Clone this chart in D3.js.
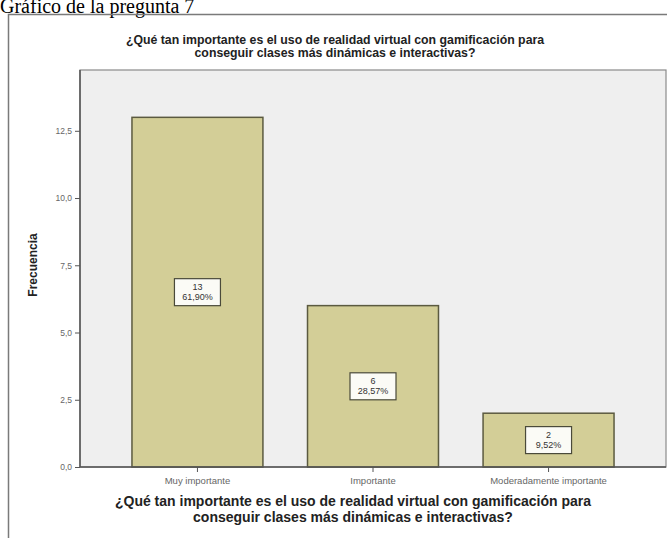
<!DOCTYPE html>
<html>
<head>
<meta charset="utf-8">
<script src="https://cdn.jsdelivr.net/npm/d3@7"></script>
<style>
  body { margin: 0; background: #fff; }
  svg { display: block; }
</style>
</head>
<body>
<svg id="chart"></svg>
<script>
const svgWidth = 667;
const svgHeight = 538;

// data
const categories = ["Muy importante", "Importante", "Moderadamente importante"];
const counts = [13, 6, 2];
const percents = ["61,90%", "28,57%", "9,52%"];
const yTicks = [0, 2.5, 5, 7.5, 10, 12.5];
const titleLines = [
    "¿Qué tan importante es el uso de realidad virtual con gamificación para",
    "conseguir clases más dinámicas e interactivas?"
];

const plot = { left: 80, right: 666, top: 70, bottom: 467 };

var svg = d3.select("#chart")
    .attr("width", svgWidth)
    .attr("height", svgHeight);

// caption above the frame (cropped at the top, like the source)
svg.append("text")
    .attr("x", 0)
    .attr("y", 13)
    .attr("font-family", "Liberation Serif, Times New Roman, serif")
    .attr("font-size", 20)
    .attr("fill", "#000")
    .text("Gráfico de la pregunta 7");

// outer frame (top + left only, rest is cropped)
svg.append("path")
    .attr("d", "M8.5,538 V14.5 H667")
    .attr("fill", "none")
    .attr("stroke", "#7a7a7a")
    .attr("stroke-width", 1.5);

// chart title
svg.append("text")
    .attr("x", 335)
    .attr("y", 44)
    .attr("text-anchor", "middle")
    .attr("font-family", "Liberation Sans, Arial, sans-serif")
    .attr("font-weight", "bold")
    .attr("font-size", 12.3)
    .attr("fill", "#222")
    .selectAll("tspan")
    .data(titleLines)
    .enter()
    .append("tspan")
    .attr("x", 335)
    .attr("dy", (d, i) => i === 0 ? 0 : 13)
    .text(d => d);

var x = d3.scaleBand()
    .domain(categories)
    .range([plot.left, plot.right])
    .paddingInner(0.254)
    .paddingOuter(0.296);

var y = d3.scaleLinear()
    .domain([0, 14.76])
    .range([plot.bottom, plot.top]);

// plot background
svg.append("rect")
    .attr("x", plot.left)
    .attr("y", plot.top)
    .attr("width", plot.right - plot.left)
    .attr("height", plot.bottom - plot.top)
    .attr("fill", "#efefef")
    .attr("stroke", "#8a8a8a")
    .attr("stroke-width", 1.2);

// bars
svg.selectAll("rect.bar")
    .data(counts)
    .enter()
    .append("rect")
    .attr("class", "bar")
    .attr("x", (d, i) => x(categories[i]))
    .attr("y", d => y(d))
    .attr("width", x.bandwidth())
    .attr("height", d => y(0) - y(d))
    .attr("fill", "#d3ce97")
    .attr("stroke", "#5b5a40")
    .attr("stroke-width", 1.5);

// value boxes
var boxW = 46, boxH = 27;
var labels = svg.selectAll("g.lbl")
    .data(counts)
    .enter()
    .append("g")
    .attr("class", "lbl")
    .attr("transform", (d, i) =>
        "translate(" + (x(categories[i]) + x.bandwidth() / 2) + "," + ((y(d) + y(0)) / 2) + ")");

labels.append("rect")
    .attr("x", -boxW / 2)
    .attr("y", -boxH / 2)
    .attr("width", boxW)
    .attr("height", boxH)
    .attr("fill", "#fbfbf6")
    .attr("stroke", "#4a4a3a")
    .attr("stroke-width", 1.2);

labels.append("text")
    .attr("y", -2)
    .attr("text-anchor", "middle")
    .attr("font-family", "Liberation Sans, Arial, sans-serif")
    .attr("font-size", 9)
    .attr("fill", "#333")
    .text(d => d);

labels.append("text")
    .attr("y", 8)
    .attr("text-anchor", "middle")
    .attr("font-family", "Liberation Sans, Arial, sans-serif")
    .attr("font-size", 9)
    .attr("fill", "#333")
    .text((d, i) => percents[i]);

// y axis
var yAxis = svg.append("g")
    .attr("transform", "translate(" + plot.left + ",0)")
    .call(d3.axisLeft(y)
        .tickValues(yTicks)
        .tickSize(5)
        .tickFormat(d => d3.format(".1f")(d).replace(".", ",")));

yAxis.select(".domain")
    .attr("d", "M0," + plot.top + "V" + plot.bottom)
    .attr("stroke", "#555")
    .attr("stroke-width", 1.5);
yAxis.selectAll(".tick line").attr("stroke", "#555");
yAxis.selectAll(".tick text")
    .attr("font-family", "Liberation Sans, Arial, sans-serif")
    .attr("font-size", 8.5)
    .attr("fill", "#666");

// x axis
var xAxis = svg.append("g")
    .attr("transform", "translate(0," + plot.bottom + ")")
    .call(d3.axisBottom(x).tickSize(5).tickPadding(5));

xAxis.select(".domain")
    .attr("d", "M" + plot.left + ",0H" + plot.right)
    .attr("stroke", "#555")
    .attr("stroke-width", 1.5);
xAxis.selectAll(".tick line").attr("stroke", "#555");
xAxis.selectAll(".tick text")
    .attr("font-family", "Liberation Sans, Arial, sans-serif")
    .attr("font-size", 9.5)
    .attr("fill", "#666");

// y axis title
svg.append("text")
    .attr("transform", "translate(37,265) rotate(-90)")
    .attr("text-anchor", "middle")
    .attr("font-family", "Liberation Sans, Arial, sans-serif")
    .attr("font-weight", "bold")
    .attr("font-size", 12)
    .attr("fill", "#222")
    .text("Frecuencia");

// x axis title
svg.append("text")
    .attr("x", 353)
    .attr("y", 506)
    .attr("text-anchor", "middle")
    .attr("font-family", "Liberation Sans, Arial, sans-serif")
    .attr("font-weight", "bold")
    .attr("font-size", 14)
    .attr("fill", "#222")
    .selectAll("tspan")
    .data(titleLines)
    .enter()
    .append("tspan")
    .attr("x", 353)
    .attr("dy", (d, i) => i === 0 ? 0 : 15.5)
    .text(d => d);
</script>
</body>
</html>
